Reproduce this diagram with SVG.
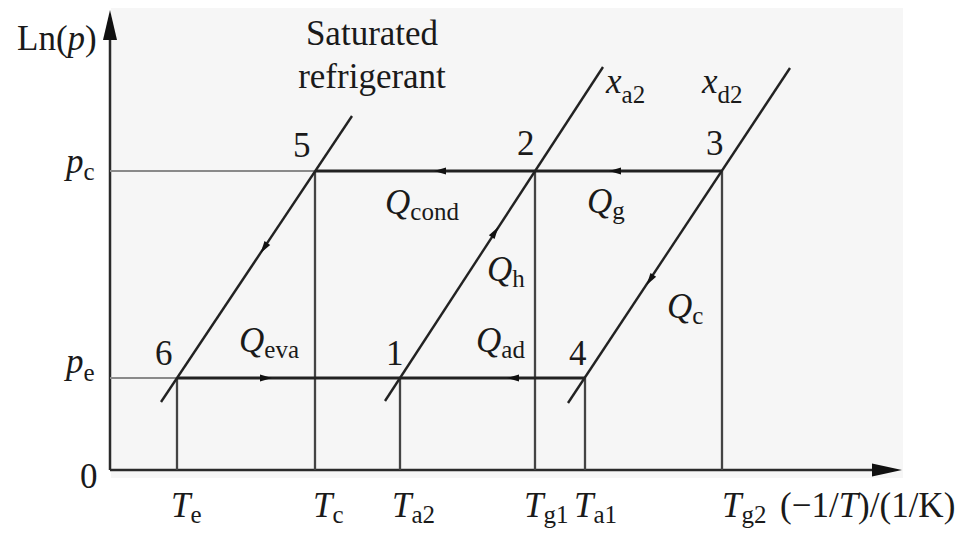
<svg xmlns="http://www.w3.org/2000/svg" width="968" height="533" viewBox="0 0 968 533">
<style>
text{font-family:"Liberation Serif","Times New Roman",serif;fill:#1a1a1a;font-size:35px}
.i{font-style:italic}
.s{font-size:25px;font-style:normal}
.axis{stroke:#2a2a2a;stroke-width:2.5;fill:none}
.thin{stroke:#8a8a8a;stroke-width:1.8;fill:none}
.vert{stroke:#444;stroke-width:2.3;fill:none}
.proc{stroke:#222;stroke-width:2.8;fill:none}
.diag{stroke:#222;stroke-width:2.4;fill:none}
.ah{fill:#111}
</style>
<defs>
<path id="ah" d="M6,0 L-6,-3.4 L-6,3.4 Z"/>
</defs>
<rect x="0" y="0" width="968" height="533" fill="#ffffff"/>
<rect x="111" y="8" width="792" height="470" fill="#f6f6f6"/>

<g id="axes">
<line class="axis" x1="110" y1="470" x2="110" y2="36"/>
<polygon class="ah" points="110,10 103,40 117,40"/>
<line class="axis" x1="110" y1="470" x2="874" y2="470"/>
<polygon class="ah" points="902,470 872,463.5 872,476.5"/>
<text x="17" y="50">Ln(<tspan class="i">p</tspan>)</text>
<text x="80" y="488">0</text>
<text x="780" y="517">(−1/<tspan class="i">T</tspan>)/(1/K)</text>
</g>

<g id="guides">
<line class="thin" x1="110" y1="171" x2="315" y2="171"/>
<line class="thin" x1="110" y1="378" x2="177" y2="378"/>
<line class="vert" x1="177" y1="378" x2="177" y2="470"/>
<line class="vert" x1="315" y1="171" x2="315" y2="470"/>
<line class="vert" x1="400" y1="378" x2="400" y2="470"/>
<line class="vert" x1="535" y1="171" x2="535" y2="470"/>
<line class="vert" x1="585" y1="378" x2="585" y2="470"/>
<line class="vert" x1="722" y1="171" x2="722" y2="470"/>
</g>

<g id="connectors">
<line class="proc" x1="315" y1="171" x2="722" y2="171"/>
<line class="proc" x1="177" y1="378" x2="585" y2="378"/>
<line class="diag" x1="161" y1="402" x2="352" y2="116"/>
<line class="diag" x1="385" y1="401" x2="603" y2="67"/>
<line class="diag" x1="568" y1="403" x2="790" y2="68"/>
<use href="#ah" class="ah" transform="translate(440,171) rotate(180)"/>
<use href="#ah" class="ah" transform="translate(615,171) rotate(180)"/>
<use href="#ah" class="ah" transform="translate(266,378)"/>
<use href="#ah" class="ah" transform="translate(513,378) rotate(180)"/>
<use href="#ah" class="ah" transform="translate(264,248) rotate(123.7)"/>
<use href="#ah" class="ah" transform="translate(495,232) rotate(-56.9)"/>
<use href="#ah" class="ah" transform="translate(650,280) rotate(123.5)"/>
</g>

<g id="line-labels">
<text x="372" y="45" text-anchor="middle">Saturated</text>
<text x="372" y="88" text-anchor="middle">refrigerant</text>
<text x="606" y="93" class="i">x<tspan class="s" dy="10">a2</tspan></text>
<text x="702" y="93" class="i">x<tspan class="s" dy="10">d2</tspan></text>
</g>

<g id="pressure-labels">
<text x="66" y="173" class="i">p<tspan class="s" dy="7">c</tspan></text>
<text x="66" y="373" class="i">p<tspan class="s" dy="8">e</tspan></text>
</g>

<g id="node-5"><text x="293" y="157">5</text></g>
<g id="node-2"><text x="517" y="155">2</text></g>
<g id="node-3"><text x="706" y="155">3</text></g>
<g id="node-6"><text x="155" y="365">6</text></g>
<g id="node-1"><text x="386" y="365">1</text></g>
<g id="node-4"><text x="569" y="365">4</text></g>

<g id="heat-labels">
<text x="385" y="214" class="i">Q<tspan class="s" dy="6">cond</tspan></text>
<text x="587" y="213" class="i">Q<tspan class="s" dy="6">g</tspan></text>
<text x="487" y="281" class="i">Q<tspan class="s" dy="6">h</tspan></text>
<text x="667" y="318" class="i">Q<tspan class="s" dy="6">c</tspan></text>
<text x="239" y="352" class="i">Q<tspan class="s" dy="6">eva</tspan></text>
<text x="476" y="352" class="i">Q<tspan class="s" dy="6">ad</tspan></text>
</g>

<g id="temp-labels">
<text x="171" y="517" class="i">T<tspan class="s" dy="6">e</tspan></text>
<text x="313" y="517" class="i">T<tspan class="s" dy="6">c</tspan></text>
<text x="392" y="517" class="i">T<tspan class="s" dy="6">a2</tspan></text>
<text x="524" y="517" class="i">T<tspan class="s" dy="6">g1</tspan></text>
<text x="574" y="517" class="i">T<tspan class="s" dy="6">a1</tspan></text>
<text x="722" y="517" class="i">T<tspan class="s" dy="6">g2</tspan></text>
</g>
</svg>
